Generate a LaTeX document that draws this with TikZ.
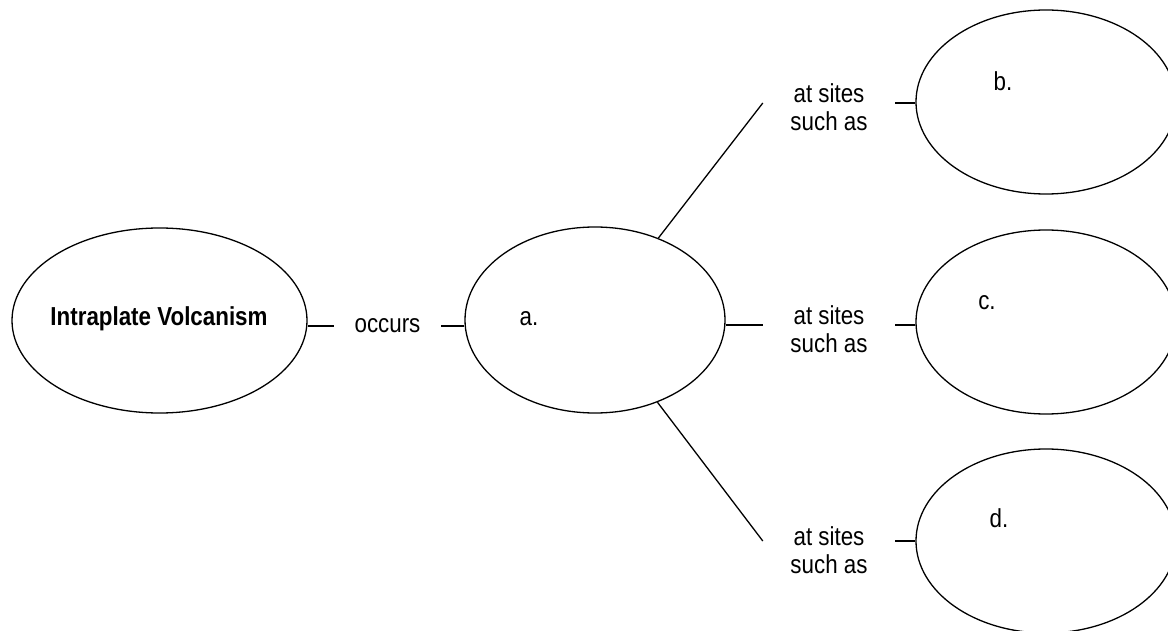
\documentclass[tikz,border=0pt]{standalone}
\usepackage{fontspec}
\setmainfont{Liberation Sans}[FakeStretch=0.86]
\usetikzlibrary{shapes.geometric}
\tikzset{
  bubble/.style={ellipse, draw, line width=1.3pt, inner sep=0pt,
    minimum width=260pt, minimum height=184pt},
  word/.style={inner sep=0pt, font=\fontsize{26}{28.5}\selectfont},
  linkword/.style={word, align=center, minimum height=30pt, minimum width=132pt},
  link/.style={line width=1.3pt},
}
\begin{document}
\begin{tikzpicture}[x=1pt,y=-1pt]
\useasboundingbox[fill=white] (0,0) rectangle (1168,631);

% concept bubbles
\node[bubble, minimum width=295pt, minimum height=185pt] (iv) at (159.5,320.5) {};
\node[bubble, minimum height=186pt] (a) at (595,320) {};
\node[bubble] (b) at (1046,102) {};
\node[bubble] (c) at (1046,322) {};
\node[bubble] (d) at (1046,541) {};

% bubble texts
\node[word, anchor=base, font=\fontsize{26}{28}\selectfont\bfseries] (ivt) at (159,326) {Intraplate Volcanism};
\node[word, anchor=base] (at) at (529,325) {a.};
\node[word, anchor=base] (bt) at (1003,91) {b.};
\node[word, anchor=base] (ct) at (987,309) {c.};
\node[word, anchor=base] (dt) at (999,527) {d.};

% linking words
\node[word, anchor=base, minimum width=107pt] (occ) at (387.5,332) {occurs};
\node[linkword] (s1) at (829,107) {at sites\\such as};
\node[linkword] (s2) at (829,329) {at sites\\such as};
\node[linkword] (s3) at (829,550) {at sites\\such as};

% line heights of the connectors
\coordinate (o) at (0,326);
\coordinate (h1) at (0,103);
\coordinate (h2) at (0,325);
\coordinate (h3) at (0,541);

% connectors
\draw[link] (iv.east |- o) -- (occ.west |- o);
\draw[link] (occ.east |- o) -- (a.west |- o);
\draw[link] (a) -- (s1.west |- h1);
\draw[link] (a.east |- h2) -- (s2.west |- h2);
\draw[link] (a) -- (s3.west |- h3);
\draw[link] (s1.east |- h1) -- (b.west |- h1);
\draw[link] (s2.east |- h2) -- (c.west |- h2);
\draw[link] (s3.east |- h3) -- (d.west |- h3);
\end{tikzpicture}
\end{document}
